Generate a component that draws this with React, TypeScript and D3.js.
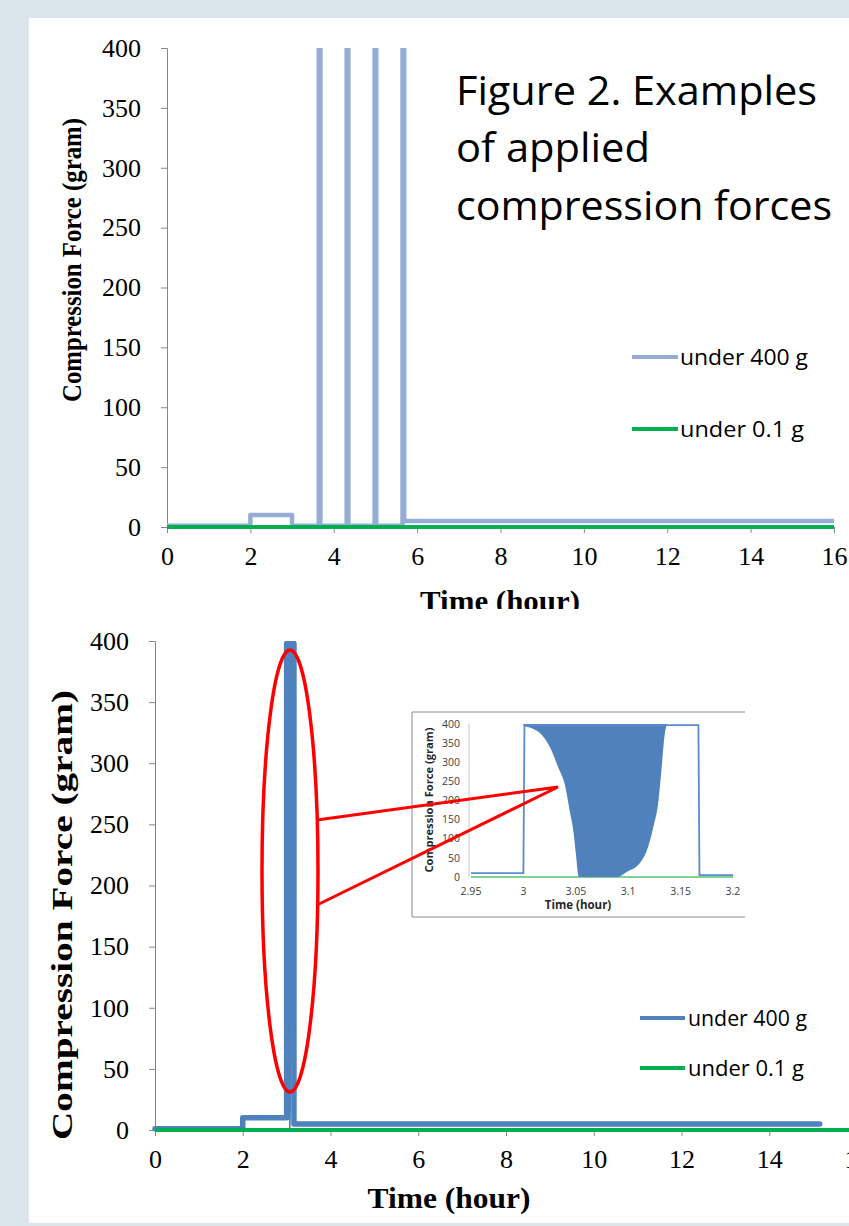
import React, { useEffect, useRef } from 'react';
import * as d3 from 'd3';

const W = 849;
const H = 1226;

// tick values
const yTicks = [0, 50, 100, 150, 200, 250, 300, 350, 400];
const xTicks = [0, 2, 4, 6, 8, 10, 12, 14, 16];
const insetXTicks = [2.95, 3, 3.05, 3.1, 3.15, 3.2];
const insetXLabels = ['2.95', '3', '3.05', '3.1', '3.15', '3.2'];

const titleLines = ['Figure 2. Examples', 'of applied', 'compression forces'];
const seriesNames = ['under 400 g', 'under 0.1 g'];

// top chart: under 400 g (pulses clipped at 400)
const topHours = [0, 2, 2, 3, 3, 3.64, 3.64, 3.68, 3.68, 4.31, 4.31, 4.35, 4.35, 4.98, 4.98, 5.02, 5.02, 5.65, 5.65, 5.69, 5.69, 16];
const topGrams = [1, 1, 10, 10, 1, 1, 430, 430, 1, 1, 430, 430, 1, 1, 430, 430, 1, 1, 430, 430, 5, 5];
const topGreenHours = [0, 16];
const topGreenGrams = [0, 0];

// bottom chart: under 400 g
const botHours = [0, 2, 2, 3, 3, 3.167, 3.167, 15.15];
const botGrams = [1, 1, 10, 10, 398, 398, 5, 5];
const botGreenHours = [0, 16.5];
const botGreenGrams = [0, 0];

// lower envelope of the oscillation (inset)
const envHours = [3.0, 3.016, 3.025, 3.033, 3.04, 3.044, 3.048, 3.05, 3.053, 3.089, 3.099, 3.111, 3.118, 3.124, 3.129, 3.132, 3.135, 3.137];
const envGrams = [395, 376, 341, 288, 236, 175, 114, 62, 0, 0, 14, 36, 71, 131, 201, 288, 376, 400];

// inset outline series
const insetHours = [2.95, 3.0, 3.001, 3.167, 3.168, 3.2];
const insetGrams = [10, 10, 397, 397, 5, 5];
const insetGreenHours = [2.95, 3.2];
const insetGreenGrams = [0, 0];

const C_LIGHT = '#95acd5';
const C_BLUE = '#4f81bd';
const C_GREEN = '#00b050';
const C_AXIS = '#868686';
const SERIF = '"Liberation Serif", "Times New Roman", serif';
const SANS = '"Open Sans", "Noto Sans", sans-serif';

const App = () => {
  const svgRef = useRef(null);

  useEffect(() => {
    const svg = d3.select(svgRef.current);
    svg.selectAll('*').remove();

    svg.append('rect').attr('width', W).attr('height', H).attr('fill', '#dae5ec');
    svg.append('rect').attr('x', 29).attr('y', 18).attr('width', W - 29).attr('height', 1223 - 18).attr('fill', '#fff');

    const defs = svg.append('defs');
    defs.append('clipPath').attr('id', 'topClip')
      .append('rect').attr('x', 0).attr('y', 0).attr('width', W).attr('height', 609);
    defs.append('clipPath').attr('id', 'topPlot')
      .append('rect').attr('x', 160).attr('y', 48).attr('width', 690).attr('height', 500);
    defs.append('clipPath').attr('id', 'botPlot')
      .append('rect').attr('x', 150).attr('y', 641).attr('width', 700).attr('height', 500);

    const pts = (xs, ys) => xs.map((x, i) => [x, ys[i]]);

    const styleAxis = (g, size) => {
      g.selectAll('.domain').attr('stroke', C_AXIS);
      g.selectAll('.tick line').attr('stroke', C_AXIS);
      g.selectAll('text').attr('fill', '#000').style('font-family', SERIF).style('font-size', size + 'px');
    };

    // ---------- top chart ----------
    const top = svg.append('g').attr('clip-path', 'url(#topClip)');
    const x1 = d3.scaleLinear().domain([0, 16]).range([167, 834]);
    const y1 = d3.scaleLinear().domain([0, 400]).range([527, 48]);

    const gy1 = top.append('g').attr('transform', 'translate(167,0)')
      .call(d3.axisLeft(y1).tickValues(yTicks).tickSize(6).tickPadding(20));
    styleAxis(gy1, 26);
    const gx1 = top.append('g').attr('transform', 'translate(0,527)')
      .call(d3.axisBottom(x1).tickValues(xTicks).tickSize(6).tickPadding(14));
    styleAxis(gx1, 26);

    const line1 = d3.line().x(d => x1(d[0])).y(d => y1(d[1]));
    const p1 = top.append('g').attr('clip-path', 'url(#topPlot)');
    p1.append('path').attr('d', line1(pts(topHours, topGrams)))
      .attr('fill', 'none').attr('stroke', C_LIGHT).attr('stroke-width', 4.5).attr('stroke-linejoin', 'round');
    p1.append('path').attr('d', line1(pts(topGreenHours, topGreenGrams)))
      .attr('fill', 'none').attr('stroke', C_GREEN).attr('stroke-width', 4);

    top.append('text').attr('x', 500).attr('y', 611).attr('text-anchor', 'middle')
      .style('font-family', SERIF).style('font-weight', 'bold').style('font-size', '30px')
      .attr('textLength', 160).attr('lengthAdjust', 'spacingAndGlyphs').text('Time (hour)');
    top.append('text').attr('transform', 'translate(81,260) rotate(-90)').attr('text-anchor', 'middle')
      .style('font-family', SERIF).style('font-weight', 'bold').style('font-size', '28px')
      .attr('textLength', 284).attr('lengthAdjust', 'spacingAndGlyphs').text('Compression  Force  (gram)');

    // title
    const tBase = [105, 162, 220];
    const tLen = [361, 194, 376];
    titleLines.forEach((t, i) => {
      svg.append('text').attr('x', 456).attr('y', tBase[i])
        .style('font-family', SANS).style('font-size', '40px').attr('fill', '#000')
        .attr('textLength', tLen[i]).attr('lengthAdjust', 'spacingAndGlyphs').text(t);
    });

    // top legend
    const leg1 = [[357, C_LIGHT], [429, C_GREEN]];
    leg1.forEach(([ly, c], i) => {
      svg.append('line').attr('x1', 632).attr('x2', 678).attr('y1', ly).attr('y2', ly)
        .attr('stroke', c).attr('stroke-width', 4);
      svg.append('text').attr('x', 680).attr('y', ly + 8)
        .style('font-family', SANS).style('font-size', '22px')
        .attr('textLength', i === 0 ? 128 : 124).attr('lengthAdjust', 'spacingAndGlyphs').text(seriesNames[i]);
    });

    // ---------- bottom chart ----------
    const x2 = d3.scaleLinear().domain([0, 16]).range([155, 857]);
    const y2 = d3.scaleLinear().domain([0, 400]).range([1130, 641]);

    const gy2 = svg.append('g').attr('transform', 'translate(155,0)')
      .call(d3.axisLeft(y2).tickValues(yTicks).tickSize(6).tickPadding(20));
    styleAxis(gy2, 26);
    const gx2 = svg.append('g').attr('transform', 'translate(0,1130)')
      .call(d3.axisBottom(x2).tickValues(xTicks).tickSize(6).tickPadding(14));
    styleAxis(gx2, 26);

    const line2 = d3.line().x(d => x2(d[0])).y(d => y2(d[1]));
    const area2 = d3.area().x(d => x2(d[0])).y0(d => y2(d[1])).y1(y2(398));
    const p2 = svg.append('g').attr('clip-path', 'url(#botPlot)');
    p2.append('path').attr('d', area2(pts(envHours, envGrams))).attr('fill', C_BLUE);
    p2.append('path').attr('d', line2(pts(botHours, botGrams)))
      .attr('fill', 'none').attr('stroke', C_BLUE).attr('stroke-width', 5.5)
      .attr('stroke-linejoin', 'round').attr('stroke-linecap', 'round');
    svg.append('path').attr('d', line2(pts(botGreenHours, botGreenGrams)))
      .attr('fill', 'none').attr('stroke', C_GREEN).attr('stroke-width', 4);

    svg.append('text').attr('x', 449).attr('y', 1208).attr('text-anchor', 'middle')
      .style('font-family', SERIF).style('font-weight', 'bold').style('font-size', '30px')
      .attr('textLength', 163).attr('lengthAdjust', 'spacingAndGlyphs').text('Time (hour)');
    svg.append('text').attr('transform', 'translate(72,915) rotate(-90)').attr('text-anchor', 'middle')
      .style('font-family', SERIF).style('font-weight', 'bold').style('font-size', '29px')
      .attr('textLength', 450).attr('lengthAdjust', 'spacingAndGlyphs').text('Compression  Force  (gram)');

    // bottom legend
    const leg2 = [[1018, C_BLUE], [1068, C_GREEN]];
    leg2.forEach(([ly, c], i) => {
      svg.append('line').attr('x1', 640).attr('x2', 685).attr('y1', ly).attr('y2', ly)
        .attr('stroke', c).attr('stroke-width', 4);
      svg.append('text').attr('x', 688).attr('y', ly + 8)
        .style('font-family', SANS).style('font-size', '21px')
        .attr('textLength', i === 0 ? 119 : 116).attr('lengthAdjust', 'spacingAndGlyphs').text(seriesNames[i]);
    });

    // ---------- inset ----------
    const ins = svg.append('g');
    ins.append('rect').attr('x', 412).attr('y', 712).attr('width', 333).attr('height', 205).attr('fill', '#fff');
    ins.append('path').attr('d', 'M745,712H412V917H745').attr('fill', 'none').attr('stroke', '#8a8a8a').attr('stroke-width', 1);

    const x3 = d3.scaleLinear().domain([2.95, 3.2]).range([471, 733]);
    const y3 = d3.scaleLinear().domain([0, 400]).range([877, 724]);

    ins.append('line').attr('x1', 469).attr('x2', 469).attr('y1', 724).attr('y2', 877).attr('stroke', '#c8c8c8');
    yTicks.forEach(v => {
      ins.append('text').attr('x', 460).attr('y', y3(v)).attr('dy', '0.35em').attr('text-anchor', 'end')
        .style('font-family', SANS).style('font-size', '10.5px').attr('fill', '#404040').text(v);
    });
    insetXTicks.forEach((v, i) => {
      ins.append('text').attr('x', x3(v)).attr('y', 895).attr('text-anchor', 'middle')
        .style('font-family', SANS).style('font-size', '10.5px').attr('fill', '#404040').text(insetXLabels[i]);
    });
    ins.append('text').attr('x', 578).attr('y', 909).attr('text-anchor', 'middle')
      .style('font-family', SANS).style('font-weight', 'bold').style('font-size', '11.5px').attr('fill', '#262626')
      .text('Time (hour)');
    ins.append('text').attr('transform', 'translate(433,800) rotate(-90)').attr('text-anchor', 'middle')
      .style('font-family', SANS).style('font-weight', 'bold').style('font-size', '10.5px').attr('fill', '#262626')
      .attr('textLength', 145).attr('lengthAdjust', 'spacingAndGlyphs').text('Compression Force (gram)');

    const line3 = d3.line().x(d => x3(d[0])).y(d => y3(d[1]));
    const area3 = d3.area().curve(d3.curveMonotoneX).x(d => x3(d[0])).y0(d => y3(d[1])).y1(y3(400));
    ins.append('path').attr('d', line3(pts(insetGreenHours, insetGreenGrams)))
      .attr('fill', 'none').attr('stroke', '#55c274').attr('stroke-width', 1.5);
    ins.append('path').attr('d', area3(pts(envHours, envGrams))).attr('fill', C_BLUE);
    ins.append('path').attr('d', line3(pts(insetHours, insetGrams)))
      .attr('fill', 'none').attr('stroke', '#5a8bd0').attr('stroke-width', 1.8);

    // ---------- red annotation ----------
    svg.append('ellipse').attr('cx', 290).attr('cy', 871).attr('rx', 28).attr('ry', 221)
      .attr('fill', 'none').attr('stroke', '#ff0000').attr('stroke-width', 3.5);
    svg.append('path').attr('d', 'M317,820L558,787L317,905')
      .attr('fill', 'none').attr('stroke', '#ff0000').attr('stroke-width', 3).attr('stroke-linejoin', 'miter');
  }, []);

  return (
    <svg ref={svgRef} width={W} height={H} style={{ position: 'absolute', left: 0, top: 0 }} />
  );
};

export default App;
